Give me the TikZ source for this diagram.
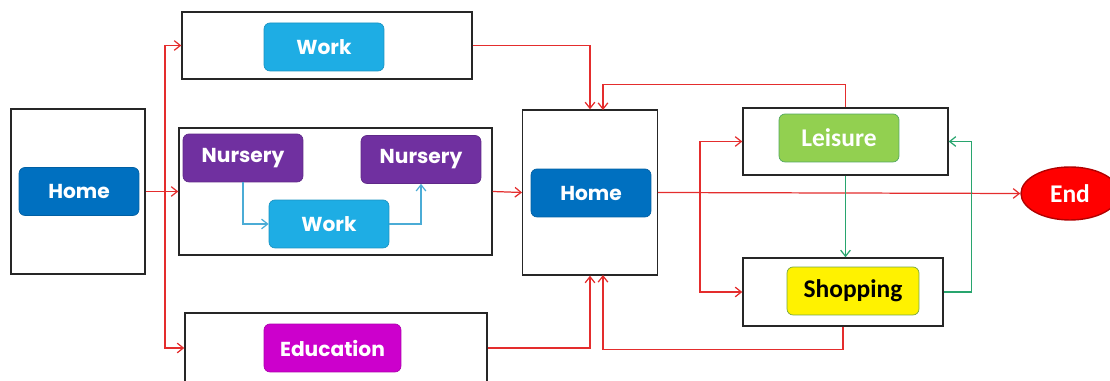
\documentclass[tikz,border=0pt]{standalone}
\usepackage{fontspec}
\setmainfont{Poppins}
\newfontfamily\calfont{Carlito}
\usetikzlibrary{arrows.meta}
\usetikzlibrary{shapes.geometric}

\definecolor{homeblue}{RGB}{0,112,192}
\definecolor{workblue}{RGB}{30,173,228}
\definecolor{nurserypurple}{RGB}{112,48,160}
\definecolor{edumagenta}{RGB}{204,0,204}
\definecolor{leisuregreen}{RGB}{146,208,80}
\definecolor{linered}{RGB}{228,45,45}
\definecolor{linegreen}{RGB}{40,165,110}
\definecolor{lineblue}{RGB}{75,172,214}

\begin{document}
\begin{tikzpicture}[x=0.02cm,y=-0.02cm,
    box/.style = {draw=black!85, line width=0.8pt, inner sep=0pt},
    btn/.style = {rounded corners=0.12cm, minimum width=2.4cm, minimum height=0.96cm, inner sep=0pt, text=white, font=\bfseries\fontsize{11.5}{14}\selectfont},
    flow/.style = {linered, line width=0.7pt, -{Straight Barb[length=3.5pt,width=5.5pt]}},
    loop/.style = {linegreen, line width=0.7pt, -{Straight Barb[length=3.5pt,width=5.5pt]}},
    inner/.style = {lineblue, line width=0.7pt, -{Straight Barb[length=3.5pt,width=5.5pt]}}]
  \useasboundingbox (0,0) rectangle (1110,381);

  % outer boxes
  \node[box, minimum width=2.68cm, minimum height=3.30cm] (homeBox) at (78,191.5) {};
  \node[box, minimum width=5.80cm, minimum height=1.34cm] (workBox) at (327,45.5) {};
  \node[box, minimum width=6.26cm, minimum height=2.54cm] (midBox) at (335.5,191.5) {};
  \node[box, minimum width=6.04cm, minimum height=1.40cm] (eduBox) at (336,348) {};
  \node[box, minimum width=2.69cm, minimum height=3.30cm] (homeTwoBox) at (590,192.5) {};
  \node[box, minimum width=4.10cm, minimum height=1.34cm] (leisBox) at (845.5,141.5) {};
  \node[box, minimum width=4.00cm, minimum height=1.36cm] (shopBox) at (843,292) {};

  % activities
  \begin{scope}[every node/.style={btn}]
    \node[fill=homeblue, draw=homeblue!85!black] (home) at (79,191.5) {Home};
    \node[fill=workblue, draw=workblue!85!black] (work) at (324,47) {Work};
    \node[fill=nurserypurple, draw=nurserypurple!85!black] (nurA) at (243,158) {Nursery};
    \node[fill=nurserypurple, draw=nurserypurple!85!black] (nurB) at (421,159.5) {Nursery};
    \node[fill=workblue, draw=workblue!85!black] (workB) at (329,224) {Work};
    \node[fill=edumagenta, draw=edumagenta!85!black, minimum width=2.74cm] (edu) at (332.5,348) {Education};
    \node[fill=homeblue, draw=homeblue!85!black] (homeTwo) at (591,193) {Home};
    \node[fill=leisuregreen, draw=leisuregreen!70!black!80!cyan, font=\calfont\bfseries\fontsize{14.5}{16}\selectfont] (leis) at (839,138) {Leisure};
    \node[fill=yellow, draw=leisuregreen!80!black, text=black, minimum width=2.64cm, font=\calfont\bfseries\fontsize{14.5}{16}\selectfont] (shop) at (853,291) {Shopping};
  \end{scope}
  \node[ellipse, fill=red, draw=red!70!black, line width=0.8pt, minimum width=1.96cm, minimum height=1.06cm, inner sep=0pt, text=white, font=\calfont\bfseries\fontsize{14.5}{16}\selectfont] (end) at (1070,193.5) {End};

  % connectors
  \coordinate (fork) at (165,191.5);
  \coordinate (split) at (700,192.5);
  \coordinate (inTop) at (603,110);
  \coordinate (inBot) at (603,275);
  \draw [flow] (homeBox.east) -- (midBox.west);
  \draw [flow] (fork) |- (workBox.west);
  \draw [flow] (fork) |- (eduBox.west);
  \draw [flow] (midBox.east) -- (homeTwoBox.west);
  \draw [flow] (workBox.east) -| (homeTwoBox.north);
  \draw [flow] (eduBox.east) -| (homeTwoBox.south);
  \draw [flow] (leisBox.north) -- ++(0,-23) -| (inTop);
  \draw [flow] (shopBox.south) -- ++(0,23) -| (inBot);
  \draw [flow] (homeTwoBox.east) -- (end.west);
  \draw [flow] (split) |- (leisBox.west);
  \draw [flow] (split) |- (shopBox.west);
  \draw [loop] (leisBox.south) -- (leisBox.south |- shopBox.north);
  \draw [loop] (shopBox.east) -- ++(27.5,0) |- (leisBox.east);
  \draw [inner] (nurA.south) |- (workB.west);
  \draw [inner] (workB.east) -| (nurB.south);
\end{tikzpicture}
\end{document}
